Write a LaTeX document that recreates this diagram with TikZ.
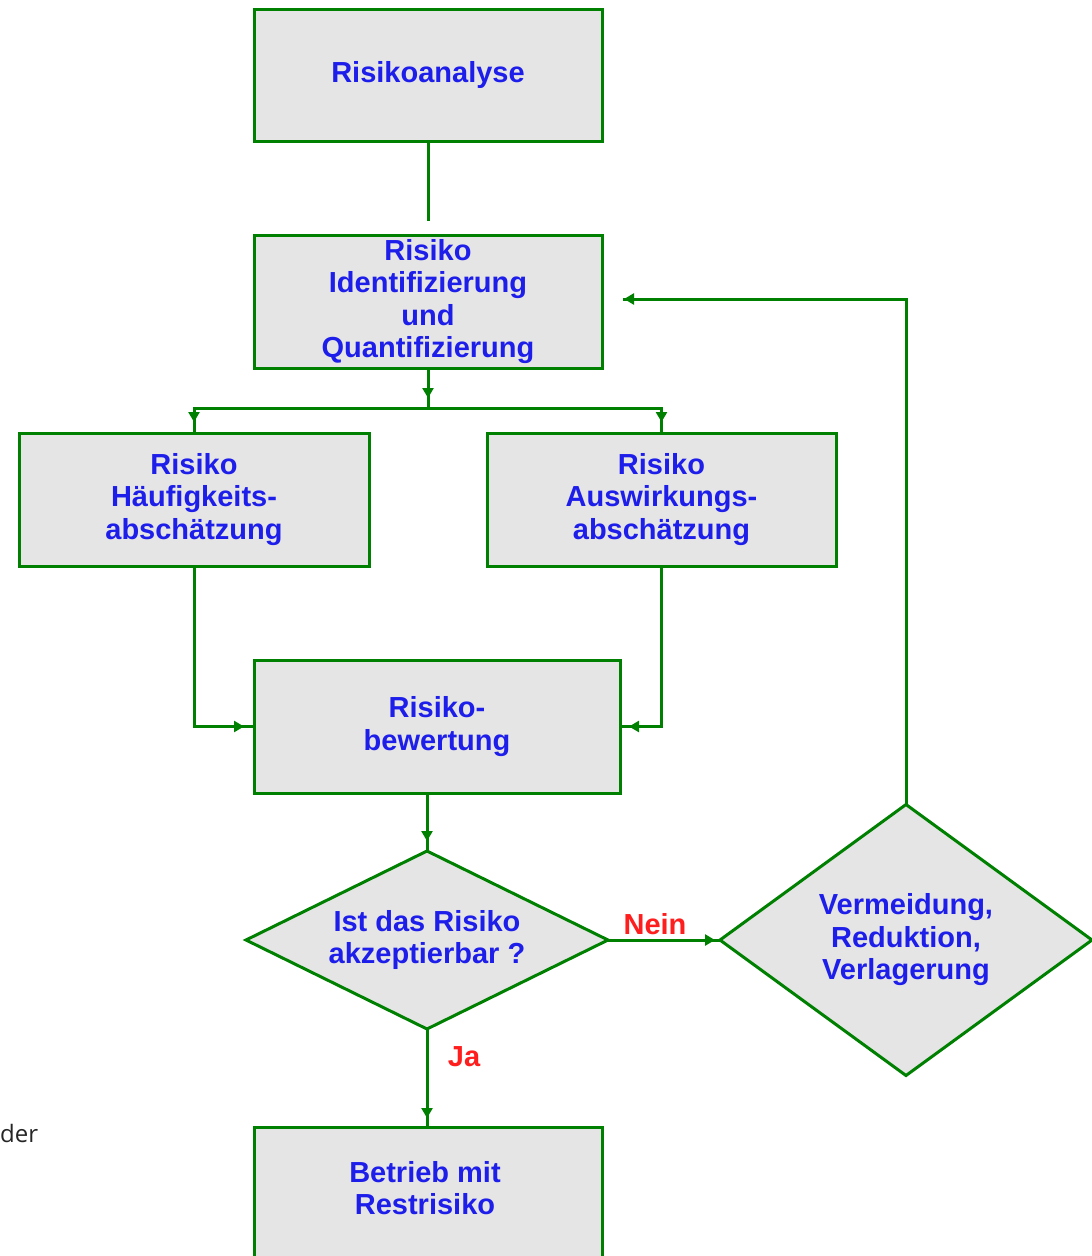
\documentclass[tikz,border=0pt]{standalone}
\usepackage{fontspec}
\setmainfont{Liberation Sans}
\newfontfamily\derfont{Open Sans}
\usetikzlibrary{shapes.geometric,arrows.meta,decorations.markings}
\definecolor{flowgreen}{HTML}{008000}
\definecolor{boxgray}{HTML}{E5E5E5}
\definecolor{txtblue}{HTML}{1E1EEB}
\definecolor{lblred}{HTML}{FF1E1E}
\begin{document}
\begin{tikzpicture}[x=1pt,y=-1pt,
  box/.style={draw=flowgreen, fill=boxgray, line width=3pt, rectangle, inner sep=0pt, outer sep=0pt,
    align=center, font=\fontsize{29}{32.5}\selectfont\bfseries, text=txtblue},
  dia/.style={box, diamond, aspect=2},
  conn/.style={draw=flowgreen, color=flowgreen, line width=3pt},
  tipat/.style={postaction={decorate}, decoration={markings,
    mark=at position #1 with {\arrow{Triangle[length=10pt,width=11pt]}}}},
  lbl/.style={font=\fontsize{29}{32.5}\selectfont\bfseries, text=lblred, inner sep=0pt}
]
\path[clip] (0,0) rectangle (1092,1256);
\useasboundingbox (0,0) rectangle (1092,1256);

% boxes
\node[box, minimum width=348, minimum height=132] (ana) at (428,75) {Risikoanalyse};
\node[box, minimum width=348, minimum height=133] (ident) at (428,301.5)
  {Risiko\\Identifizierung\\und\\Quantifizierung};
\node[box, minimum width=350, minimum height=133] (haeuf) at (194,499.5)
  {Risiko\\Häufigkeits-\\abschätzung};
\node[box, minimum width=349, minimum height=133] (ausw) at (661.5,499.5)
  {Risiko\\Auswirkungs-\\abschätzung};
\node[box, minimum width=366, minimum height=133] (bew) at (437,726.5)
  {Risiko-\\bewertung};
\node[dia, minimum width=362, minimum height=178] (d1) at (427,940)
  {Ist das Risiko\\akzeptierbar ?};
\node[dia, aspect=1.38, minimum width=372, minimum height=271] (d2) at (906,940)
  {Vermeidung,\\Reduktion,\\Verlagerung};
\node[box, minimum width=348, minimum height=200, anchor=north] (betr) at (428,1127) {};
\node[font=\fontsize{29}{32.5}\selectfont\bfseries, text=txtblue, align=center, inner sep=0pt]
  (betrtext) at (425,1188) {Betrieb mit\\Restrisiko};

% connectors
\coordinate (c1) at (428,221);
\draw[conn] (ana.south) -- (c1);
\coordinate (j) at (428,408);
\draw[conn, tipat=-10pt] (ident.south) -- (j);
\draw[conn, tipat=-11pt] (j) -| (haeuf.north);
\draw[conn, tipat=-11pt] (j) -| (ausw.north);
\draw[conn, tipat=-10pt] (haeuf.south) |- (bew.west);
\draw[conn, tipat=-9pt] (ausw.south) |- (bew.east);
\draw[conn, tipat=-10pt] (d1.north |- bew.south) -- (d1.north);
\draw[conn, tipat=-5pt] (d1.east) -- (d2.west);
\draw[conn, tipat=-9pt] (d1.south) -- (d1.south |- betr.north);
\coordinate (fb) at (623,299);
\draw[conn, tipat=-1pt] (d2.north) |- (fb);

% labels
\node[lbl] (nein) at (655,924) {Nein};
\node[lbl] (ja) at (464,1057) {Ja};
\node[font=\derfont\fontsize{24}{28}\selectfont, text=black!85, anchor=west, inner sep=0pt] (der) at (0,1133) {der};
\end{tikzpicture}
\end{document}
